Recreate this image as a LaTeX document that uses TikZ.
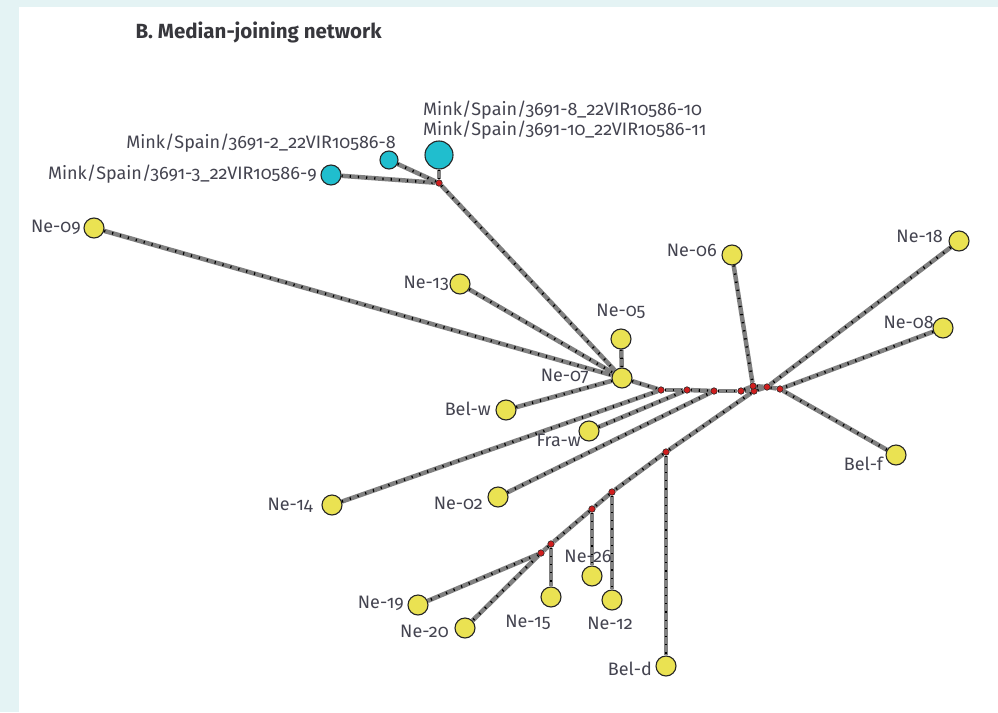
\documentclass[tikz,border=0pt]{standalone}
\usepackage{fontspec}
\setmainfont{Fira Sans}[Numbers=OldStyle]
\usetikzlibrary{backgrounds}

\definecolor{panelbg}{RGB}{228,243,244}
\definecolor{hapyellow}{RGB}{234,226,82}
\definecolor{minkcyan}{RGB}{32,190,206}
\definecolor{medred}{RGB}{208,30,30}
\definecolor{linkgray}{RGB}{128,128,128}
\definecolor{labgray}{RGB}{68,68,80}
\definecolor{titlegray}{RGB}{55,55,60}

\begin{document}
\begin{tikzpicture}[x=1pt, y=-1pt,
    hap/.style={circle, draw=black!85, line width=1.1pt, fill=hapyellow, minimum size=20pt, inner sep=0pt},
    mink/.style={hap, fill=minkcyan},
    med/.style={circle, draw=black!85, line width=0.6pt, fill=medred, minimum size=6.5pt, inner sep=0pt},
    link/.style={draw=linkgray, line width=4.5pt, postaction={draw=black, line width=2.6pt, dash pattern=on 1.2pt off 7pt}},
    lab/.style={font=\fontsize{18}{18}\selectfont, text=labgray, inner sep=0pt}]
    \useasboundingbox (0,0) rectangle (998,712);

    % Title
    \node[font=\fontsize{20.5}{22}\selectfont\bfseries, text=titlegray, anchor=west] (title) at (132,32) {B. Median-joining network};

    % Mink samples from Spain
    \node[mink] (c3) at (331,175) {};
    \node[mink, minimum size=18pt] (c2) at (389,160) {};
    \node[mink, minimum size=28pt] (c8) at (439,155) {};
    \node[lab, anchor=east] (lc3) at (317,174) {Mink/Spain/3691-3\_22VIR10586-9};
    \node[lab, anchor=east] (lc2) at (396,143) {Mink/Spain/3691-2\_22VIR10586-8};
    \node[lab, anchor=west, align=left] (lc8) at (423,120) {Mink/Spain/3691-8\_22VIR10586-10\\Mink/Spain/3691-10\_22VIR10586-11};

    % Sampled haplotypes
    \foreach \n/\x/\y in {ne09/94/228, ne13/460/284, ne05/621/339, ne07/622/378,
        belw/506/410, fraw/589/431, ne14/332/505, ne02/498/497, ne06/732/255,
        ne18/959/241, ne08/943/328, belf/896/455, ne19/418/605, ne20/465/628,
        ne15/551/597, ne26/592/576, ne12/612/600, beld/666/666} {
        \node[hap] (\n) at (\x,\y) {};
    }

    % Their labels
    \foreach \n/\x/\y/\a/\t in {ne09/81/227/east/Ne-09, ne13/449/283/east/Ne-13,
        ne05/621/311/center/Ne-05, ne07/589/376/east/Ne-07, belw/491/409/east/Bel-w,
        fraw/581/440/east/Fra-w, ne14/313/505/east/Ne-14, ne02/483/503/east/Ne-02,
        ne06/717/250/east/Ne-06, ne18/943/236/east/Ne-18, ne08/934/322/east/Ne-08,
        belf/883/464/east/Bel-f, ne19/404/603/east/Ne-19, ne20/449/631/east/Ne-20,
        ne15/528/622/center/Ne-15, ne26/588/556/center/Ne-26, ne12/610/623/center/Ne-12,
        beld/652/669/east/Bel-d} {
        \node[lab, anchor=\a] (l\n) at (\x,\y) {\t};
    }

    % Median vectors
    \foreach \n/\x/\y in {m0/439/183, a1/661/390, a2/687/390, a3/714/391, a4/741/391,
        a5/754/391, a6/753/386, a7/767/387, a8/780/389,
        b0/666/452, b1/612/492, b2/592/509, b3/551/544, b4/541/553} {
        \node[med] (\n) at (\x,\y) {};
    }

    % Links with mutation ticks
    \begin{pgfonlayer}{background}
        \fill[panelbg] (0,0) rectangle (998,712);
        \fill[white] (19,7) rectangle (998,712);
        \foreach \a/\b in {c3/m0, c2/m0, c8/m0, m0/ne07, ne09/ne07, ne13/ne07,
            ne05/ne07, belw/ne07, ne07/a1, a1/a2, a2/a3, a3/a4, a4/a5, a4/a6,
            a5/a7, a6/a7, a7/a8, ne14/a1, fraw/a2, ne02/a3, ne06/a6, ne18/a7,
            ne08/a8, belf/a8, a5/b0, b0/b1, b1/b2, b2/b3, b3/b4, b0/beld,
            b1/ne12, b2/ne26, b3/ne15, b4/ne19, b4/ne20} {
            \draw[link] (\a) -- (\b);
        }
    \end{pgfonlayer}
\end{tikzpicture}
\end{document}
